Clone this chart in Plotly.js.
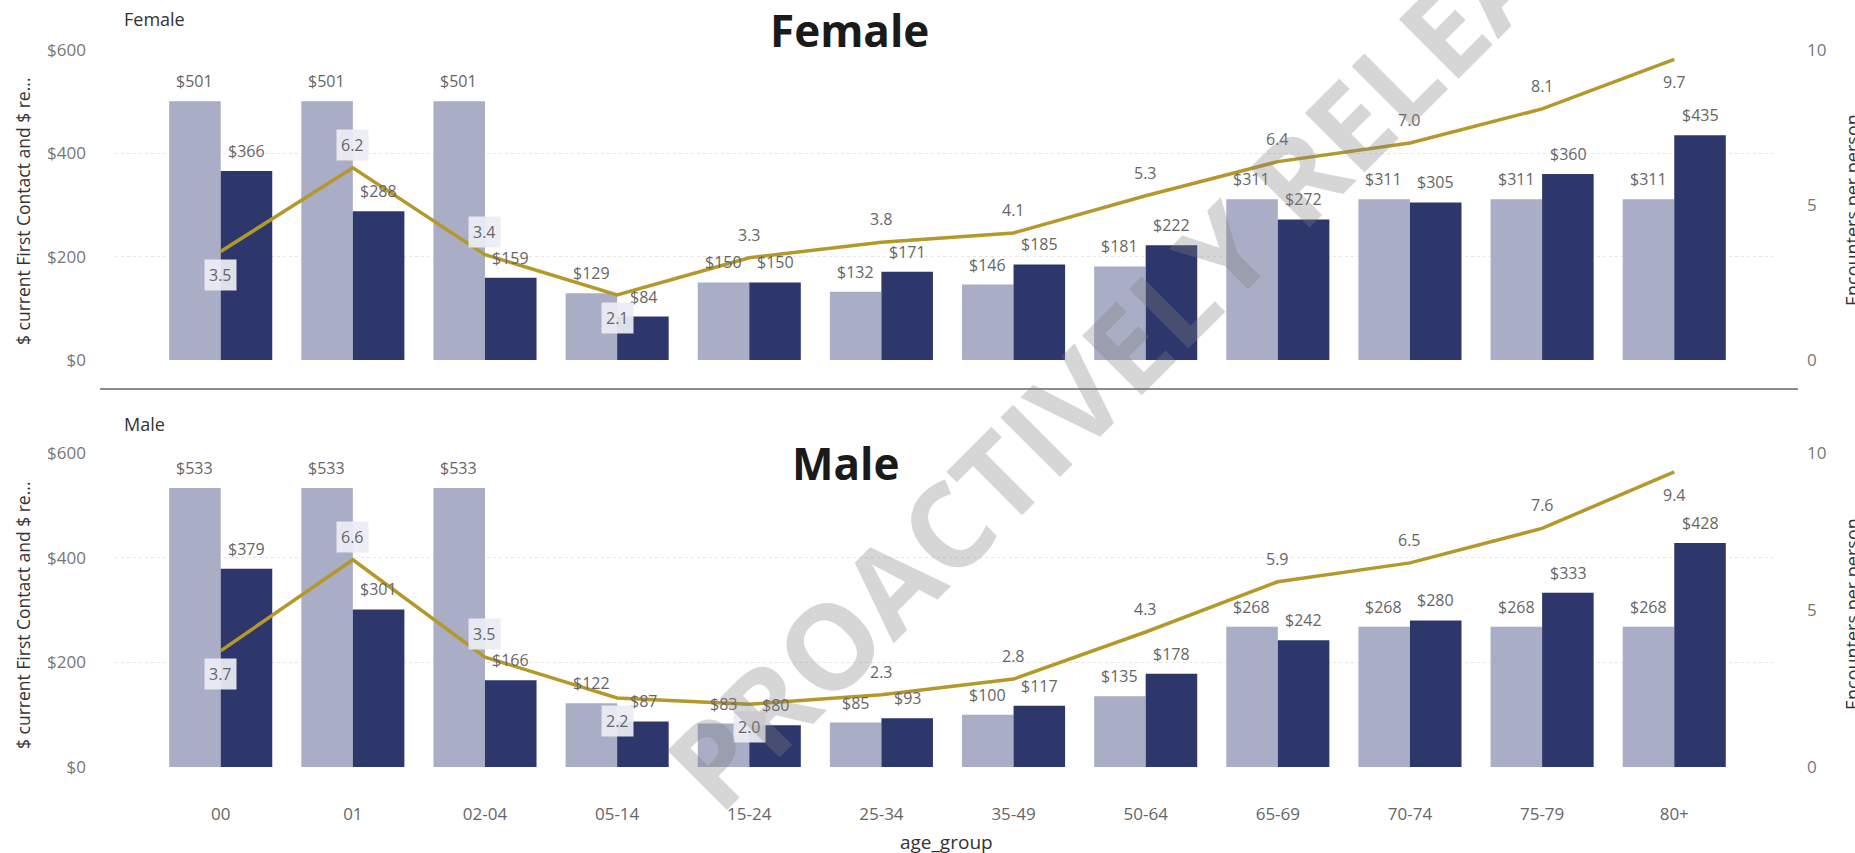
<!DOCTYPE html>
<html>
<head>
<meta charset="utf-8">
<script src="https://cdn.plot.ly/plotly-3.0.1.min.js"></script>
<style>
  html, body { margin: 0; padding: 0; background: #ffffff; overflow: hidden; }
  #chart { width: 1855px; height: 853px; }
</style>
</head>
<body>
<div id="chart"></div>
<script>
// ---------- data ----------
const ageGroups = ['00','01','02-04','05-14','15-24','25-34','35-49','50-64','65-69','70-74','75-79','80+'];

const femaleFirstContact = [501, 501, 501, 129, 150, 132, 146, 181, 311, 311, 311, 311];
const femaleRecommended  = [366, 288, 159, 84, 150, 171, 185, 222, 272, 305, 360, 435];
const femaleEncounters   = [3.5, 6.2, 3.4, 2.1, 3.3, 3.8, 4.1, 5.3, 6.4, 7.0, 8.1, 9.7];

const maleFirstContact = [533, 533, 533, 122, 83, 85, 100, 135, 268, 268, 268, 268];
const maleRecommended  = [379, 301, 166, 87, 80, 93, 117, 178, 242, 280, 333, 428];
const maleEncounters   = [3.7, 6.6, 3.5, 2.2, 2.0, 2.3, 2.8, 4.3, 5.9, 6.5, 7.6, 9.4];

const dollarTicks = [0, 200, 400, 600];
const dollarTickText = ['$0', '$200', '$400', '$600'];
const encTicks = [0, 5, 10];

// ---------- styles ----------
const LIGHT = '#A9ADC6';
const DARK = '#2E376B';
const GOLD = '#B5982A';
const FONT = 'Open Sans, Segoe UI, sans-serif';
const LABEL_COLOR = '#666666';

// label placement (style): 'a' above, 'b' below; boxed flag
const femaleLabelPos = ['b','a','a','b','a','a','a','a','a','a','a','b'];
const femaleLabelBox = [1,1,1,1,0,0,0,0,0,0,0,0];
const maleLabelPos   = ['b','a','a','b','b','a','a','a','a','a','a','b'];
const maleLabelBox   = [1,1,1,1,1,0,0,0,0,0,0,0];

const H = 853, W = 1855;
const px = v => v / W;
const py = v => 1 - v / H;

function bars(y, color, name, xa, ya) {
  return { type: 'bar', x: ageGroups, y: y, name: name, xaxis: xa, yaxis: ya,
           marker: { color: color, line: { width: 0 } }, hoverinfo: 'x+y' };
}
function line(y, xa, ya) {
  return { type: 'scatter', mode: 'lines', x: ageGroups, y: y, name: 'Encounters per person',
           xaxis: xa, yaxis: ya, line: { color: GOLD, width: 3.5 } };
}

const traces = [
  bars(femaleFirstContact, LIGHT, '$ current First Contact', 'x', 'y'),
  bars(femaleRecommended, DARK, '$ recommended', 'x', 'y'),
  line(femaleEncounters, 'x', 'y2'),
  bars(maleFirstContact, LIGHT, '$ current First Contact', 'x2', 'y3'),
  bars(maleRecommended, DARK, '$ recommended', 'x2', 'y3'),
  line(maleEncounters, 'x2', 'y4')
];

const annotations = [];
const labelFont = { family: FONT, size: 16, color: LABEL_COLOR };

function barLabels(vals, xa, ya, shiftX) {
  vals.forEach((v, i) => {
    annotations.push({ x: ageGroups[i], y: v, xref: xa, yref: ya, text: '$' + v,
      showarrow: false, xshift: shiftX, yshift: 20, font: labelFont });
  });
}
function lineLabels(vals, xa, ya, pos, box) {
  vals.forEach((v, i) => {
    const a = { x: ageGroups[i], y: v, xref: xa, yref: ya, text: v.toFixed(1),
      showarrow: false, yshift: pos[i] === 'a' ? 23 : -23, font: labelFont };
    if (box[i]) { a.bgcolor = 'rgba(236,237,244,0.93)'; a.borderpad = 4; }
    annotations.push(a);
  });
}
barLabels(femaleFirstContact, 'x', 'y', -26);
barLabels(femaleRecommended, 'x', 'y', 26);
barLabels(maleFirstContact, 'x2', 'y3', -26);
barLabels(maleRecommended, 'x2', 'y3', 26);
lineLabels(femaleEncounters, 'x', 'y2', femaleLabelPos, femaleLabelBox);
lineLabels(maleEncounters, 'x2', 'y4', maleLabelPos, maleLabelBox);

// titles and panel labels
annotations.push(
  { xref: 'paper', yref: 'paper', x: px(849), y: py(30), text: '<b>Female</b>', showarrow: false,
    xanchor: 'center', yanchor: 'middle', font: { family: FONT, size: 44, color: '#1a1a1a' } },
  { xref: 'paper', yref: 'paper', x: px(846), y: py(463), text: '<b>Male</b>', showarrow: false,
    xanchor: 'center', yanchor: 'middle', font: { family: FONT, size: 44, color: '#1a1a1a' } },
  { xref: 'paper', yref: 'paper', x: px(122), y: py(19), text: 'Female', showarrow: false,
    xanchor: 'left', yanchor: 'middle', font: { family: FONT, size: 18, color: '#333333' } },
  { xref: 'paper', yref: 'paper', x: px(122), y: py(424), text: 'Male', showarrow: false,
    xanchor: 'left', yanchor: 'middle', font: { family: FONT, size: 18, color: '#333333' } },
  { xref: 'paper', yref: 'paper', x: px(23), y: py(212), text: '$ current First Contact and $ re...', showarrow: false,
    textangle: -90, xanchor: 'center', yanchor: 'middle', font: { family: FONT, size: 17.5, color: '#333333' } },
  { xref: 'paper', yref: 'paper', x: px(23), y: py(616), text: '$ current First Contact and $ re...', showarrow: false,
    textangle: -90, xanchor: 'center', yanchor: 'middle', font: { family: FONT, size: 17.5, color: '#333333' } },
  { xref: 'paper', yref: 'paper', x: px(1852), y: py(210), text: 'Encounters per person', showarrow: false,
    textangle: -90, xanchor: 'center', yanchor: 'middle', font: { family: FONT, size: 18, color: '#333333' } },
  { xref: 'paper', yref: 'paper', x: px(1852), y: py(614), text: 'Encounters per person', showarrow: false,
    textangle: -90, xanchor: 'center', yanchor: 'middle', font: { family: FONT, size: 18, color: '#333333' } },
  { xref: 'paper', yref: 'paper', x: px(947), y: py(842), text: 'age_group', showarrow: false,
    xanchor: 'center', yanchor: 'middle', font: { family: FONT, size: 19, color: '#333333' } },
  // watermark
  { xref: 'paper', yref: 'paper', x: px(1182), y: py(290), text: '<b>PROACTIVELY RELEASED</b>', showarrow: false,
    textangle: -45, xanchor: 'center', yanchor: 'middle',
    font: { family: FONT, size: 118, color: 'rgba(128,128,128,0.32)' } }
);

const tickFont = { family: FONT, size: 17, color: '#777777' };
const xBase = { type: 'category', domain: [px(115), px(1776)], range: [-0.8, 11.77],
  showgrid: false, zeroline: false, showline: false, ticks: '', fixedrange: true };
const yLeft = { range: [0, 600], tickmode: 'array', tickvals: dollarTicks, ticktext: dollarTickText, showgrid: true,
  gridcolor: '#e6e6e6', griddash: 'dot', gridwidth: 1, zeroline: false, showline: false, ticks: '',
  ticklabelstandoff: 28, tickfont: tickFont };
const yRight = { range: [0, 10], tickmode: 'array', tickvals: encTicks, side: 'right', showgrid: false, zeroline: false,
  showline: false, ticks: '', ticklabelstandoff: 30, tickfont: tickFont };

const layout = {
  width: W, height: H,
  margin: { l: 0, r: 0, t: 0, b: 0 },
  paper_bgcolor: '#ffffff', plot_bgcolor: '#ffffff',
  showlegend: false,
  barmode: 'group', bargap: 0.22, bargroupgap: 0,
  font: { family: FONT },
  xaxis: Object.assign({}, xBase, { anchor: 'y', showticklabels: false }),
  xaxis2: Object.assign({}, xBase, { anchor: 'y3', showticklabels: true, ticklabelstandoff: 35,
    tickfont: { family: FONT, size: 17, color: '#666666' } }),
  yaxis: Object.assign({}, yLeft, { domain: [py(360), py(50)], anchor: 'x' }),
  yaxis2: Object.assign({}, yRight, { overlaying: 'y', anchor: 'x' }),
  yaxis3: Object.assign({}, yLeft, { domain: [py(767), py(453)], anchor: 'x2' }),
  yaxis4: Object.assign({}, yRight, { overlaying: 'y3', anchor: 'x2' }),
  shapes: [
    { type: 'line', xref: 'paper', yref: 'paper', x0: px(100), x1: px(1798), y0: py(389), y1: py(389),
      line: { color: '#8c8c8c', width: 2 } }
  ],
  annotations: annotations
};

Plotly.newPlot('chart', traces, layout, { displayModeBar: false, staticPlot: true });
</script>
</body>
</html>
